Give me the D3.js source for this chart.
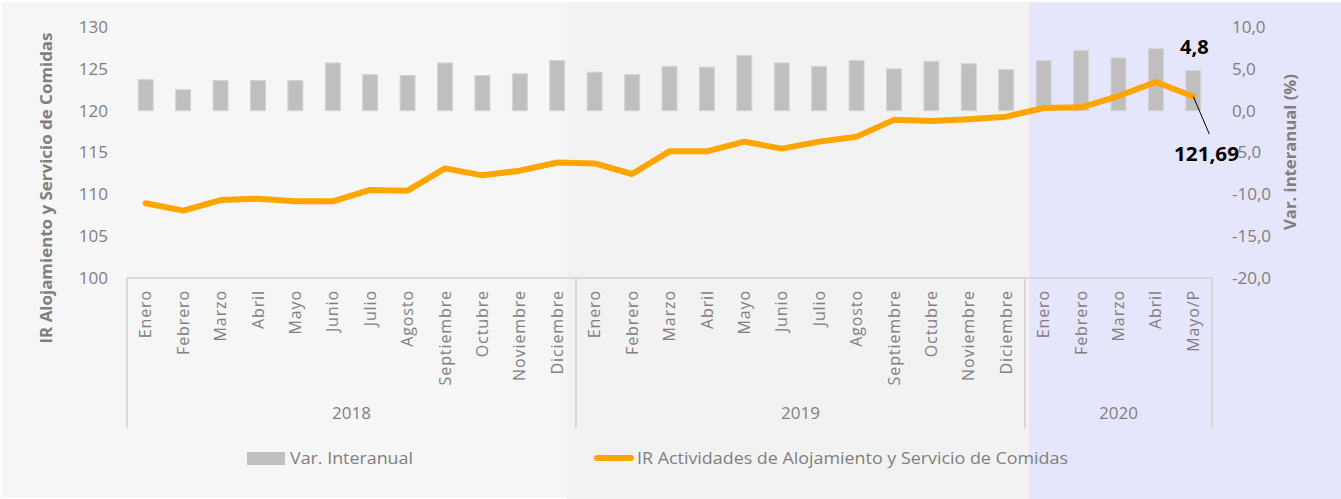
<!DOCTYPE html>
<html>
<head>
<meta charset="utf-8">
<script src="https://cdn.jsdelivr.net/npm/d3@7"></script>
<style>
  html, body { margin: 0; padding: 0; background: #ffffff; }
  svg { display: block; }
  text { font-family: "Open Sans", "Noto Sans", sans-serif; }
</style>
</head>
<body>
<svg id="chart" width="1341" height="499"></svg>
<script>
// ---- data ----
const months = ["Enero","Febrero","Marzo","Abril","Mayo","Junio","Julio","Agosto","Septiembre","Octubre","Noviembre","Diciembre",
                "Enero","Febrero","Marzo","Abril","Mayo","Junio","Julio","Agosto","Septiembre","Octubre","Noviembre","Diciembre",
                "Enero","Febrero","Marzo","Abril","Mayo/P"];
const years = ["2018","2019","2020"];
const yearCounts = [12, 12, 5];
const varInteranual = [3.7, 2.5, 3.6, 3.6, 3.6, 5.7, 4.3, 4.2, 5.7, 4.2, 4.4, 6.0,
                       4.6, 4.3, 5.3, 5.2, 6.6, 5.7, 5.3, 6.0, 5.0, 5.9, 5.6, 4.9,
                       6.0, 7.2, 6.3, 7.4, 4.8];
const indiceIR = [108.93, 108.05, 109.32, 109.48, 109.17, 109.17, 110.52, 110.44, 113.1, 112.27, 112.83, 113.8,
                  113.7, 112.43, 115.14, 115.14, 116.3, 115.46, 116.3, 116.89, 118.9, 118.77, 118.98, 119.28,
                  120.32, 120.4, 121.75, 123.43, 121.69];
const leftTicks = [100, 105, 110, 115, 120, 125, 130];
const rightTicks = [-20, -15, -10, -5, 0, 5, 10];
const seriesNames = ["Var. Interanual", "IR Actividades de Alojamiento y Servicio de Comidas"];
const leftTitle = "IR Alojamiento y Servicio de Comidas";
const rightTitle = "Var. interanual (%)";

// ---- locale (comma decimal, hyphen minus) ----
const loc = d3.formatLocale({decimal: ",", thousands: ".", grouping: [3], currency: ["", ""], minus: "-"});
const f1 = loc.format(".1f");
const f2 = loc.format(".2f");

const svg = d3.select("#chart");
const W = 1341, H = 499;
const plot = {left: 127, right: 1212, top: 27, bottom: 278};

// backgrounds
svg.append("rect").attr("x", 0).attr("y", 0).attr("width", W).attr("height", H).attr("fill", "#ffffff");
svg.append("rect").attr("x", 2).attr("y", 2).attr("width", 565).attr("height", H - 4).attr("fill", "#f6f6f6");
svg.append("rect").attr("x", 567).attr("y", 2).attr("width", 462).attr("height", H - 2).attr("fill", "#f2f2f2");
svg.append("rect").attr("x", 1029).attr("y", 2).attr("width", W - 1029).attr("height", H - 2).attr("fill", "#e5e5fb");

// scales
const idx = d3.range(months.length);
const x = d3.scaleBand().domain(idx).range([plot.left, plot.right]).paddingInner(0.6).paddingOuter(0.3);
const xc = i => x(i) + x.bandwidth() / 2;
const yL = d3.scaleLinear().domain([100, 130]).range([plot.bottom, plot.top]);
const yR = d3.scaleLinear().domain([-20, 10]).range([plot.bottom, plot.top]);

// left axis
const gL = svg.append("g").attr("transform", `translate(${plot.left - 19},0)`)
  .call(d3.axisLeft(yL).tickValues(leftTicks).tickSize(0).tickPadding(0).tickFormat(d3.format("d")));
gL.select(".domain").remove();
gL.selectAll("text").attr("font-size", 17).attr("fill", "#7f7f7f");

// right axis
const gR = svg.append("g").attr("transform", `translate(1232,0)`)
  .call(d3.axisRight(yR).tickValues(rightTicks).tickSize(0).tickPadding(0).tickFormat(f1));
gR.select(".domain").remove();
gR.selectAll("text").attr("font-size", 17).attr("fill", "#7f7f7f");

// axis titles
svg.append("text").attr("transform", "translate(52,188) rotate(-90)")
  .attr("text-anchor", "middle").attr("font-weight", "bold").attr("font-size", 16).attr("fill", "#7f7f7f")
  .attr("textLength", 311).attr("lengthAdjust", "spacingAndGlyphs").text(leftTitle);
svg.append("text").attr("transform", "translate(1296,152) rotate(-90)")
  .attr("text-anchor", "middle").attr("font-weight", "bold").attr("font-size", 16).attr("fill", "#7f7f7f")
  .attr("textLength", 156).attr("lengthAdjust", "spacingAndGlyphs").text(rightTitle);

// category axis
svg.append("line").attr("x1", plot.left).attr("x2", plot.right).attr("y1", plot.bottom).attr("y2", plot.bottom)
  .attr("stroke", "#d0d0d0").attr("stroke-width", 1.5);
const gX = svg.append("g").attr("transform", `translate(0,${plot.bottom})`)
  .call(d3.axisBottom(x).tickSize(0).tickFormat(i => months[i]));
gX.select(".domain").remove();
gX.selectAll(".tick text")
  .attr("transform", "rotate(-90)")
  .attr("x", -12).attr("y", 0).attr("dy", "0.35em")
  .attr("text-anchor", "end")
  .attr("font-size", 16).attr("letter-spacing", "0.9px").attr("fill", "#808080");

// year groups
let start = 0;
const groups = years.map((yr, k) => { const g = {yr, s: start, e: start + yearCounts[k]}; start += yearCounts[k]; return g; });
const edge = i => plot.left + i * (plot.right - plot.left) / months.length;
const seps = [0].concat(groups.map(g => g.e));
svg.selectAll("line.sep").data(seps).enter().append("line")
  .attr("class", "sep")
  .attr("x1", d => edge(d)).attr("x2", d => edge(d))
  .attr("y1", plot.bottom).attr("y2", 428)
  .attr("stroke", "#d0d0d0").attr("stroke-width", 1.5);
svg.selectAll("text.year").data(groups).enter().append("text")
  .attr("class", "year")
  .attr("x", d => (edge(d.s) + edge(d.e)) / 2).attr("y", 419)
  .attr("text-anchor", "middle").attr("font-size", 17).attr("fill", "#7f7f7f")
  .text(d => d.yr);

// bars
svg.selectAll("rect.bar").data(varInteranual).enter().append("rect")
  .attr("class", "bar")
  .attr("x", (d, i) => x(i)).attr("width", x.bandwidth())
  .attr("y", d => yR(Math.max(0, d))).attr("height", d => Math.abs(yR(d) - yR(0)))
  .attr("fill", "#bfbfbf").attr("stroke", "#d4d4d4").attr("stroke-width", 1);

// line
const line = d3.line().x((d, i) => xc(i)).y(d => yL(d));
svg.append("path").datum(indiceIR).attr("d", line)
  .attr("fill", "none").attr("stroke", "#ffa500").attr("stroke-width", 6)
  .attr("stroke-linejoin", "round").attr("stroke-linecap", "round");

// annotations
const last = months.length - 1;
svg.append("text").attr("x", xc(last) + 1).attr("y", 54).attr("text-anchor", "middle")
  .attr("font-weight", "bold").attr("font-size", 20).attr("fill", "#000")
  .text(f1(varInteranual[last]));
svg.append("line").attr("x1", xc(last)).attr("y1", yL(indiceIR[last]))
  .attr("x2", xc(last) + 16).attr("y2", 134).attr("stroke", "#000").attr("stroke-width", 1);
svg.append("text").attr("x", 1174).attr("y", 161)
  .attr("font-weight", "bold").attr("font-size", 20).attr("fill", "#000")
  .attr("textLength", 65).attr("lengthAdjust", "spacingAndGlyphs")
  .text(f2(indiceIR[last]));

// legend
svg.append("rect").attr("x", 247).attr("y", 452).attr("width", 38).attr("height", 13).attr("fill", "#bfbfbf");
svg.append("text").attr("x", 290).attr("y", 464).attr("font-size", 17).attr("fill", "#7f7f7f")
  .attr("textLength", 123).attr("lengthAdjust", "spacingAndGlyphs").text(seriesNames[0]);
svg.append("line").attr("x1", 597).attr("x2", 631).attr("y1", 458).attr("y2", 458)
  .attr("stroke", "#ffa500").attr("stroke-width", 6).attr("stroke-linecap", "round");
svg.append("text").attr("x", 637).attr("y", 464).attr("font-size", 17).attr("fill", "#7f7f7f")
  .attr("textLength", 431).attr("lengthAdjust", "spacingAndGlyphs").text(seriesNames[1]);
</script>
</body>
</html>
